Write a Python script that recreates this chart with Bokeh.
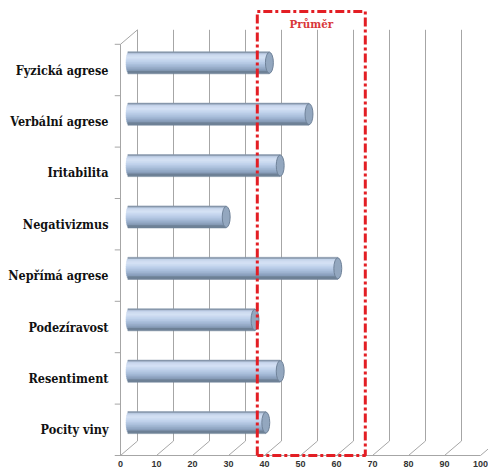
import numpy as np
from bokeh.plotting import figure
from bokeh.models import Range1d
from bokeh.core.properties import value
from bokeh.embed import file_html
from bokeh.resources import INLINE

# ---- data (top to bottom) ----
categories = ["Fyzická agrese", "Verbální agrese", "Iritabilita", "Negativizmus",
              "Nepřímá agrese", "Podezíravost", "Resentiment", "Pocity viny"]
values = [39, 50, 42, 27, 58, 35, 42, 38]
x_ticks = [0, 10, 20, 30, 40, 50, 60, 70, 80, 90, 100]
band_low = 38
band_high = 68
band_label = "Průměr"

# ---- geometry (pixels per data unit) ----
PXX = 3.6
PXY = 51.4
DX = 17 / PXX      # depth offset of the back wall
DY = 14.5 / PXY
N = len(categories)

p = figure(width=488, height=473,
           x_range=Range1d(-120 / PXX, 368 / PXX),
           y_range=Range1d(-18 / PXY, 455 / PXY),
           x_axis_type=None, y_axis_type=None, min_border=0,
           toolbar_location=None, output_backend="svg",
           outline_line_color=None, background_fill_color="white")
p.grid.visible = False

GRID = "#a6a6a6"
# back wall vertical gridlines
p.segment(x0=[t + DX for t in x_ticks], y0=[DY] * len(x_ticks),
          x1=[t + DX for t in x_ticks], y1=[N + DY] * len(x_ticks),
          line_color=GRID, line_width=1)
# floor diagonals
p.segment(x0=x_ticks, y0=[0] * len(x_ticks),
          x1=[t + DX for t in x_ticks], y1=[DY] * len(x_ticks),
          line_color=GRID, line_width=1)
# front floor edge
p.segment(x0=[-1.6], y0=[0], x1=[x_ticks[-1]], y1=[0], line_color=GRID, line_width=1)
# left wall: front vertical edge and top diagonal
p.segment(x0=[0, 0], y0=[0, N], x1=[0, DX], y1=[N, N + DY], line_color=GRID, line_width=1)
# category tick marks
rows = list(range(1, N + 1))
p.segment(x0=[-1.6] * len(rows), y0=rows, x1=[0] * len(rows), y1=rows,
          line_color=GRID, line_width=1)

# ---- cylinders ----
stripe_colors = ["#8797ab", "#c3d3ea", "#d0ddf1", "#d4e1f4", "#cbdaf0", "#c1d3ec",
                 "#b7cae5", "#acc1dd", "#a1b6d3", "#95aac7", "#899eba", "#6e8196"]
ns = len(stripe_colors)
h = 0.41
rx = 1.1
ys, ls, rs, cs = [], [], [], []
cap_x, cap_y = [], []
for k, (cat, v) in enumerate(zip(categories, values)):
    i = N - 1 - k
    yc = i + 0.5 + DY / 2
    x0 = DX / 2
    x1 = v + DX / 2
    for j in range(ns):
        t = (j + 0.5) / ns * 2 - 1
        ys.append(yc + h / 2 - (j + 0.5) * h / ns)
        ls.append(x0 - 0.8 * np.sqrt(max(0.0, 1 - t * t)))
        rs.append(x1)
        cs.append(stripe_colors[j])
    cap_x.append(x1)
    cap_y.append(yc)

p.hbar(y=ys, left=ls, right=rs, height=h / ns * 1.6, fill_color=cs, line_color=cs,
       line_width=0.5)
p.ellipse(x=cap_x, y=cap_y, width=2 * rx, height=h, fill_color="#93a7bf",
          line_color="#6f8299", line_width=1)

# ---- labels ----
p.text(x=[-12 / PXX] * N, y=[N - 1 - k + 0.5 for k in range(N)], text=categories,
       text_align="right", text_baseline="middle",
       text_font=value("'DejaVu Serif Condensed', 'DejaVu Serif', serif"),
       text_font_style="bold", text_font_size="12.5px", text_color="#111111")
p.text(x=x_ticks, y=[-8.5 / PXY] * len(x_ticks), text=[str(t) for t in x_ticks],
       text_align="center", text_baseline="middle", text_font=value("Liberation Sans"),
       text_font_style="bold", text_font_size="9px", text_color="#333333")

# ---- red average box ----
top = (455 - 11) / PXY
p.line(x=[band_low, band_low, band_high, band_high, band_low],
       y=[0, top, top, 0, 0], line_color="#e31e24", line_width=3,
       line_dash="9 3 3 3")
p.text(x=[(band_low + band_high) / 2], y=[(455 - 23) / PXY], text=[band_label],
       text_align="center", text_baseline="middle",
       text_font=value("'DejaVu Serif Condensed', 'DejaVu Serif', serif"),
       text_font_style="bold", text_font_size="11.5px", text_color="#d9383a")

open("out.html", "w").write(file_html(p, INLINE))
